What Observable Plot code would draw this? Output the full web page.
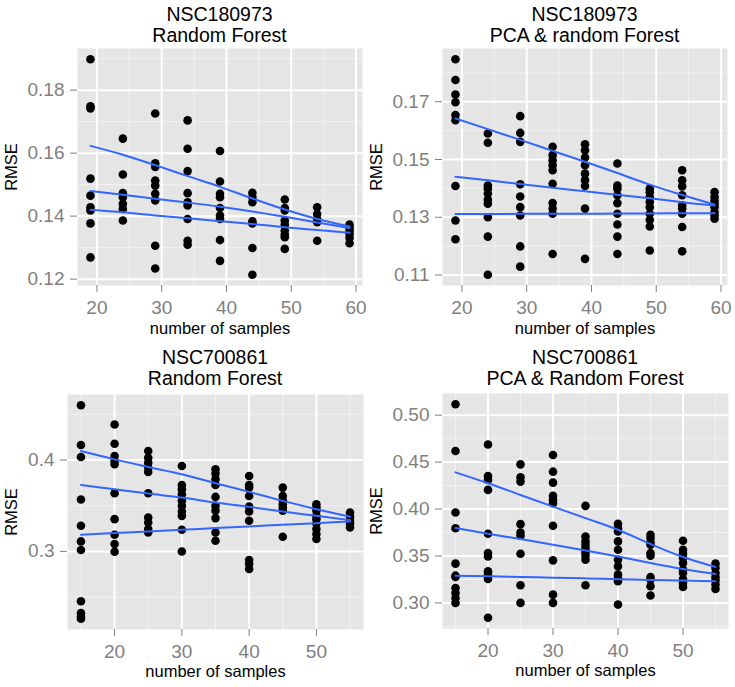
<!DOCTYPE html>
<html>
<head>
<meta charset="utf-8">
<script src="https://cdn.jsdelivr.net/npm/d3@7"></script>
<script src="https://cdn.jsdelivr.net/npm/@observablehq/plot@0.6"></script>
<style>
  html, body { margin: 0; padding: 0; background: white; }
  #chart { position: relative; width: 735px; height: 687px; font-family: "Liberation Sans", Arial, sans-serif; }
  .panel { position: absolute; }
  .ptitle { position: absolute; text-align: center; font-size: 19.5px; line-height: 20.5px; color: black; white-space: nowrap; }
  .panel svg { position: absolute; overflow: visible; }
  .panel svg g[aria-label="x-axis tick label"] text,
  .panel svg g[aria-label="y-axis tick label"] text { fill: #7f7f7f; }
  .panel svg g[aria-label="x-axis tick label"],
  .panel svg g[aria-label="y-axis tick label"] { fill: #7f7f7f; }
  .panel svg g[aria-label="x-axis tick"], .panel svg g[aria-label="y-axis tick"] { stroke: #7f7f7f; }
  .panel svg g[aria-label="x-axis label"], .panel svg g[aria-label="y-axis label"] { fill: black; font-size: 16.5px; }
  .panel svg g[aria-label="x-axis label"] text, .panel svg g[aria-label="y-axis label"] text { fill: black; font-size: 16.5px; }
</style>
</head>
<body>
<div id="chart"></div>
<script>
// ---------- NSC180973, Random Forest ----------
const a_n = [19, 24, 29, 34, 39, 44, 49, 54, 59];
const a_rmse = [
  [0.1898, 0.1749, 0.1742, 0.1519, 0.1465, 0.1428, 0.1418, 0.1377, 0.1269],
  [0.1646, 0.1532, 0.1473, 0.1460, 0.1439, 0.1423, 0.1386],
  [0.1726, 0.1568, 0.1556, 0.1513, 0.1497, 0.1471, 0.1450, 0.1306, 0.1234],
  [0.1704, 0.1614, 0.1543, 0.1473, 0.1444, 0.1434, 0.1391, 0.1322, 0.1309],
  [0.1607, 0.1510, 0.1471, 0.1460, 0.1426, 0.1402, 0.1391, 0.1324, 0.1258],
  [0.1474, 0.1460, 0.1444, 0.1384, 0.1377, 0.1299, 0.1214],
  [0.1453, 0.1426, 0.1418, 0.1386, 0.1373, 0.1354, 0.1341, 0.1333, 0.1296],
  [0.1428, 0.1407, 0.1391, 0.1381, 0.1322],
  [0.1373, 0.1364, 0.1354, 0.1343, 0.1331, 0.1314]
];
const a_fitHigh = [0.1623, 0.1595, 0.1562, 0.1527, 0.1493, 0.1456, 0.1421, 0.1391, 0.1367];
const a_fitMid  = [0.1480, 0.1468, 0.1455, 0.1443, 0.1430, 0.1415, 0.1398, 0.1380, 0.1362];
const a_fitLow  = [0.1420, 0.1412, 0.1402, 0.1393, 0.1384, 0.1375, 0.1365, 0.1356, 0.1347];
const a_yTicks = [0.12, 0.14, 0.16, 0.18];
const a_yLabels = ["0.12", "0.14", "0.16", "0.18"];
const a_yMinor = [0.13, 0.15, 0.17, 0.19];

// ---------- NSC180973, PCA & random Forest ----------
const b_n = [19, 24, 29, 34, 39, 44, 49, 54, 59];
const b_rmse = [
  [0.1847, 0.1775, 0.1725, 0.1698, 0.1654, 0.1636, 0.1408, 0.1289, 0.1224],
  [0.1590, 0.1558, 0.1410, 0.1399, 0.1382, 0.1361, 0.1347, 0.1300, 0.1233, 0.1101],
  [0.1650, 0.1592, 0.1561, 0.1414, 0.1372, 0.1335, 0.1306, 0.1199, 0.1129],
  [0.1544, 0.1515, 0.1497, 0.1480, 0.1463, 0.1416, 0.1349, 0.1330, 0.1312, 0.1173],
  [0.1553, 0.1532, 0.1507, 0.1480, 0.1451, 0.1428, 0.1408, 0.1330, 0.1156],
  [0.1486, 0.1410, 0.1399, 0.1376, 0.1349, 0.1312, 0.1275, 0.1233, 0.1173],
  [0.1399, 0.1387, 0.1370, 0.1353, 0.1335, 0.1312, 0.1291, 0.1268, 0.1185],
  [0.1463, 0.1428, 0.1407, 0.1376, 0.1341, 0.1330, 0.1312, 0.1266, 0.1182],
  [0.1387, 0.1370, 0.1358, 0.1347, 0.1335, 0.1318, 0.1306, 0.1295]
];
const b_fitHigh = [0.1642, 0.1605, 0.1568, 0.1530, 0.1492, 0.1453, 0.1413, 0.1377, 0.1344];
const b_fitMid  = [0.1440, 0.1428, 0.1415, 0.1402, 0.1390, 0.1378, 0.1366, 0.1352, 0.1341];
const b_fitLow  = [0.1311, 0.1311, 0.1312, 0.1312, 0.1312, 0.1313, 0.1313, 0.1314, 0.1314];
const b_yTicks = [0.11, 0.13, 0.15, 0.17];
const b_yLabels = ["0.11", "0.13", "0.15", "0.17"];
const b_yMinor = [0.12, 0.14, 0.16, 0.18];

// ---------- NSC700861, Random Forest ----------
const c_n = [15, 20, 25, 30, 35, 40, 45, 50, 55];
const c_rmse = [
  [0.4600, 0.4164, 0.4033, 0.3567, 0.3280, 0.3109, 0.3015, 0.2455, 0.2324, 0.2287, 0.2262],
  [0.4389, 0.4178, 0.4044, 0.3989, 0.3953, 0.3636, 0.3353, 0.3182, 0.3080, 0.2996],
  [0.4098, 0.4025, 0.3971, 0.3916, 0.3869, 0.3636, 0.3371, 0.3316, 0.3244, 0.3207],
  [0.3935, 0.3727, 0.3680, 0.3625, 0.3553, 0.3498, 0.3436, 0.3389, 0.3236, 0.2998],
  [0.3898, 0.3851, 0.3789, 0.3727, 0.3596, 0.3498, 0.3444, 0.3364, 0.3207, 0.3116],
  [0.3825, 0.3727, 0.3698, 0.3607, 0.3491, 0.3436, 0.3335, 0.2906, 0.2862, 0.2807],
  [0.3698, 0.3607, 0.3560, 0.3516, 0.3480, 0.3444, 0.3160],
  [0.3516, 0.3480, 0.3444, 0.3389, 0.3353, 0.3305, 0.3244, 0.3189, 0.3135],
  [0.3425, 0.3378, 0.3335, 0.3305, 0.3262]
];
const c_fitHigh = [0.4098, 0.4007, 0.3924, 0.3844, 0.3746, 0.3651, 0.3553, 0.3462, 0.3378];
const c_fitMid  = [0.3727, 0.3680, 0.3633, 0.3589, 0.3534, 0.3487, 0.3436, 0.3389, 0.3342];
const c_fitLow  = [0.3182, 0.3200, 0.3218, 0.3236, 0.3255, 0.3273, 0.3291, 0.3309, 0.3327];
const c_yTicks = [0.3, 0.4];
const c_yLabels = ["0.3", "0.4"];
const c_yMinor = [0.25, 0.35, 0.45];

// ---------- NSC700861, PCA & Random Forest ----------
const d_n = [15, 20, 25, 30, 35, 40, 45, 50, 55];
const d_rmse = [
  [0.5117, 0.4618, 0.3963, 0.3796, 0.3418, 0.3290, 0.3276, 0.3159, 0.3106, 0.3053, 0.3000],
  [0.4688, 0.4352, 0.4310, 0.4204, 0.3736, 0.3531, 0.3495, 0.3336, 0.3301, 0.3255, 0.2841],
  [0.4476, 0.4338, 0.4292, 0.3839, 0.3750, 0.3715, 0.3524, 0.3188, 0.3000],
  [0.4575, 0.4398, 0.4281, 0.4140, 0.4097, 0.4062, 0.3821, 0.3453, 0.3088, 0.3000],
  [0.4034, 0.3708, 0.3655, 0.3619, 0.3584, 0.3538, 0.3503, 0.3460, 0.3188],
  [0.3842, 0.3796, 0.3761, 0.3655, 0.3566, 0.3460, 0.3389, 0.3301, 0.3265, 0.3230, 0.2982],
  [0.3726, 0.3690, 0.3644, 0.3619, 0.3531, 0.3503, 0.3276, 0.3248, 0.3177, 0.3078],
  [0.3662, 0.3566, 0.3524, 0.3478, 0.3425, 0.3354, 0.3319, 0.3255, 0.3212, 0.3170],
  [0.3418, 0.3372, 0.3319, 0.3276, 0.3241, 0.3195, 0.3149]
];
const d_fitHigh = [0.4391, 0.4275, 0.4150, 0.4026, 0.3903, 0.3779, 0.3627, 0.3489, 0.3383];
const d_fitMid  = [0.3797, 0.3736, 0.3680, 0.3619, 0.3559, 0.3495, 0.3425, 0.3361, 0.3308];
const d_fitLow  = [0.3290, 0.3283, 0.3276, 0.3268, 0.3261, 0.3253, 0.3245, 0.3238, 0.3230];
const d_yTicks = [0.30, 0.35, 0.40, 0.45, 0.50];
const d_yLabels = ["0.30", "0.35", "0.40", "0.45", "0.50"];
const d_yMinor = [0.275, 0.325, 0.375, 0.425, 0.475];

// ---------- shared ----------
const titlesTop = ["NSC180973", "NSC180973", "NSC700861", "NSC700861"];
const titlesBottom = ["Random Forest", "PCA & random Forest", "Random Forest", "PCA & Random Forest"];
const xLabel = "number of samples";
const yLabel = "RMSE";
const xTicksA = [20, 30, 40, 50, 60];
const xMinorA = [25, 35, 45, 55];
const xTicksC = [20, 30, 40, 50];
const xMinorC = [15, 25, 35, 45, 55];

function extent(n, rmse) {
  const ys = rmse.flat();
  const x0 = d3.min(n), x1 = d3.max(n), y0 = d3.min(ys), y1 = d3.max(ys);
  const ex = (x1 - x0) * 0.05, ey = (y1 - y0) * 0.05;
  return {x: [x0 - ex, x1 + ex], y: [y0 - ey, y1 + ey]};
}

function makePanel(cfg) {
  const {left, top, title1, title2, n, rmse, fits, xTicks, xMinor, yTicks, yLabels, yMinor,
         marginLeft, plotW, plotH, marginTop} = cfg;
  const pts = n.flatMap((x, i) => rmse[i].map(y => ({x, y})));
  const lines = fits.flatMap((f, k) => n.map((x, i) => ({x, y: f[i], k})));
  const dom = extent(n, rmse);
  const marginBottom = 54, marginRight = 6;
  const wrap = document.createElement("div");
  wrap.className = "panel";
  wrap.style.left = left + "px";
  wrap.style.top = top + "px";
  wrap.style.width = (marginLeft + plotW + marginRight) + "px";
  wrap.style.height = (marginTop + plotH + marginBottom + 45) + "px";
  const t = document.createElement("div");
  t.className = "ptitle";
  t.style.left = marginLeft + "px";
  t.style.width = plotW + "px";
  t.style.top = "4px";
  const l1 = document.createElement("div"); l1.textContent = title1;
  const l2 = document.createElement("div"); l2.textContent = title2;
  t.appendChild(l1); t.appendChild(l2);
  wrap.appendChild(t);

  const svg = Plot.plot({
    width: marginLeft + plotW + marginRight,
    height: marginTop + plotH + marginBottom,
    marginLeft, marginRight, marginTop, marginBottom,
    style: {fontFamily: "'Liberation Sans', Arial, sans-serif", fontSize: "19px", background: "transparent", overflow: "visible"},
    x: {domain: dom.x},
    y: {domain: dom.y},
    marks: [
      Plot.frame({fill: "#e5e5e5", stroke: null}),
      Plot.ruleX(xMinor.filter(v => v > dom.x[0] && v < dom.x[1]), {stroke: "#f2f2f2", strokeWidth: 1}),
      Plot.ruleY(yMinor.filter(v => v > dom.y[0] && v < dom.y[1]), {stroke: "#f2f2f2", strokeWidth: 1}),
      Plot.ruleX(xTicks, {stroke: "white", strokeWidth: 2}),
      Plot.ruleY(yTicks, {stroke: "white", strokeWidth: 2}),
      Plot.axisX(xTicks, {tickSize: 7, tickPadding: 8, fontSize: 19, label: xLabel, labelAnchor: "center", labelOffset: cfg.xLabelOffset, labelArrow: "none"}),
      Plot.axisY(yTicks, {tickSize: 7, tickPadding: 6, fontSize: 19, tickFormat: (d) => yLabels[yTicks.indexOf(d)], label: yLabel, labelAnchor: "center", labelOffset: marginLeft - 5, labelArrow: "none"}),
      Plot.dot(pts, {x: "x", y: "y", r: 4.3, fill: "black", stroke: null}),
      Plot.line(lines, {x: "x", y: "y", z: "k", stroke: "#3366ff", strokeWidth: 2, curve: "monotone-x"})
    ]
  });
  svg.style.left = "0px";
  svg.style.top = (cfg.svgTop) + "px";
  wrap.appendChild(svg);
  return wrap;
}

const chart = document.getElementById("chart");
chart.appendChild(makePanel({left: 0, top: 0, svgTop: 45, title1: titlesTop[0], title2: titlesBottom[0],
  n: a_n, rmse: a_rmse, fits: [a_fitHigh, a_fitMid, a_fitLow], xTicks: xTicksA, xMinor: xMinorA,
  yTicks: a_yTicks, yLabels: a_yLabels, yMinor: a_yMinor, marginLeft: 77, plotW: 285, plotH: 237, marginTop: 3, xLabelOffset: 48}));
chart.appendChild(makePanel({left: 365, top: 0, svgTop: 45, title1: titlesTop[1], title2: titlesBottom[1],
  n: b_n, rmse: b_rmse, fits: [b_fitHigh, b_fitMid, b_fitLow], xTicks: xTicksA, xMinor: xMinorA,
  yTicks: b_yTicks, yLabels: b_yLabels, yMinor: b_yMinor, marginLeft: 77, plotW: 285, plotH: 237, marginTop: 3, xLabelOffset: 48}));
chart.appendChild(makePanel({left: 0, top: 343, svgTop: 47, title1: titlesTop[2], title2: titlesBottom[2],
  n: c_n, rmse: c_rmse, fits: [c_fitHigh, c_fitMid, c_fitLow], xTicks: xTicksC, xMinor: xMinorC,
  yTicks: c_yTicks, yLabels: c_yLabels, yMinor: c_yMinor, marginLeft: 67, plotW: 296, plotH: 235, marginTop: 4, xLabelOffset: 47}));
chart.appendChild(makePanel({left: 365, top: 343, svgTop: 47, title1: titlesTop[3], title2: titlesBottom[3],
  n: d_n, rmse: d_rmse, fits: [d_fitHigh, d_fitMid, d_fitLow], xTicks: xTicksC, xMinor: xMinorC,
  yTicks: d_yTicks, yLabels: d_yLabels, yMinor: d_yMinor, marginLeft: 77, plotW: 286, plotH: 235, marginTop: 3, xLabelOffset: 47}));
</script>
</body>
</html>
